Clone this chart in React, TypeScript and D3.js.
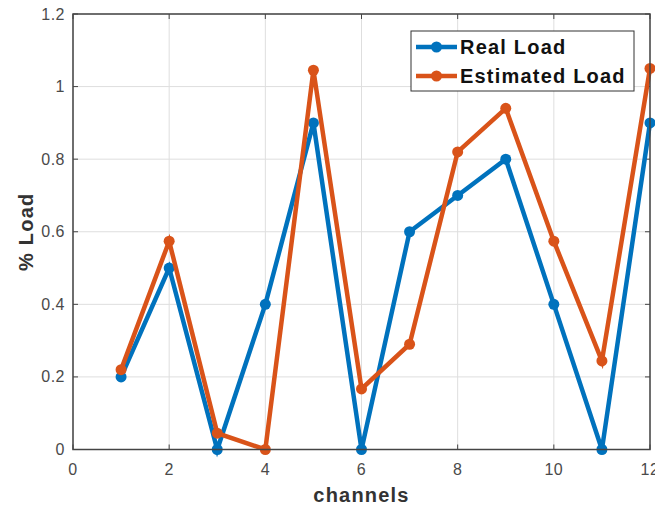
import React from 'react';
import * as d3 from 'd3';

const channels = [1, 2, 3, 4, 5, 6, 7, 8, 9, 10, 11, 12];
const realLoad = [0.2, 0.5, 0, 0.4, 0.9, 0, 0.6, 0.7, 0.8, 0.4, 0, 0.9];
const estimatedLoad = [0.22, 0.574, 0.045, 0, 1.045, 0.167, 0.29, 0.82, 0.94, 0.574, 0.244, 1.05];
const xTicks = [0, 2, 4, 6, 8, 10, 12];
const yTicks = [0, 0.2, 0.4, 0.6, 0.8, 1, 1.2];

const W = 655;
const H = 508;
const margin = { top: 14, right: 5, bottom: 58.5, left: 73 };
const BLUE = '#0072BD';
const ORANGE = '#D95319';
const FONT = 'Liberation Sans, Arial, Helvetica, sans-serif';

export default function App() {
  const innerW = W - margin.left - margin.right;
  const innerH = H - margin.top - margin.bottom;

  const x = d3.scaleLinear().domain([0, 12]).range([0, innerW]);
  const y = d3.scaleLinear().domain([0, 1.2]).range([innerH, 0]);

  const line = d3.line<number>()
    .x((_, i) => x(channels[i]))
    .y((d) => y(d));

  const series = [
    { name: 'Real Load', values: realLoad, color: BLUE },
    { name: 'Estimated Load', values: estimatedLoad, color: ORANGE },
  ];

  // legend box, in plot coordinates
  const lg = { x: 338, y: 17, w: 223, h: 60 };

  return (
    <div style={{ position: 'absolute', left: 0, top: 0 }}>
      <svg width={W} height={H} style={{ display: 'block', background: '#fff' }}>
        <g transform={`translate(${margin.left},${margin.top})`}>
          {/* grid */}
          {xTicks.map((t) => (
            <line key={`gx${t}`} x1={x(t)} x2={x(t)} y1={0} y2={innerH} stroke="#dedede" strokeWidth={1} />
          ))}
          {yTicks.map((t) => (
            <line key={`gy${t}`} x1={0} x2={innerW} y1={y(t)} y2={y(t)} stroke="#dedede" strokeWidth={1} />
          ))}

          {/* ticks */}
          {xTicks.map((t) => (
            <g key={`tx${t}`}>
              <line x1={x(t)} x2={x(t)} y1={innerH} y2={innerH - 5} stroke="#444" />
              <line x1={x(t)} x2={x(t)} y1={0} y2={5} stroke="#444" />
              <text x={x(t)} y={innerH + 25.5} textAnchor="middle" fontFamily={FONT} fontSize={16} letterSpacing={0.5} fill="#4a4a4a">
                {t}
              </text>
            </g>
          ))}
          {yTicks.map((t) => (
            <g key={`ty${t}`}>
              <line x1={0} x2={5} y1={y(t)} y2={y(t)} stroke="#444" />
              <line x1={innerW} x2={innerW - 5} y1={y(t)} y2={y(t)} stroke="#444" />
              <text x={-8} y={y(t) + 5.5} textAnchor="end" fontFamily={FONT} fontSize={16} letterSpacing={0.5} fill="#4a4a4a">
                {t}
              </text>
            </g>
          ))}

          {/* series */}
          {series.map((s) => (
            <g key={s.name}>
              <path d={line(s.values) || ''} fill="none" stroke={s.color} strokeWidth={4.5} strokeLinejoin="miter" />
              {s.values.map((v, i) => (
                <circle key={i} cx={x(channels[i])} cy={y(v)} r={5.5} fill={s.color} />
              ))}
            </g>
          ))}

          {/* box */}
          <rect x={0} y={0} width={innerW} height={innerH} fill="none" stroke="#444" strokeWidth={1.5} />

          {/* legend */}
          <g transform={`translate(${lg.x},${lg.y})`}>
            <rect x={0} y={0} width={lg.w} height={lg.h} fill="#fff" stroke="#333" strokeWidth={1} />
            {series.map((s, i) => (
              <g key={s.name} transform={`translate(0,${16 + i * 29})`}>
                <line x1={5} x2={46} y1={0} y2={0} stroke={s.color} strokeWidth={4.5} />
                <circle cx={25.5} cy={0} r={5.5} fill={s.color} />
                <text x={49} y={7} fontFamily={FONT} fontSize={20} letterSpacing={1.2} fontWeight="bold" fill="#111">
                  {s.name}
                </text>
              </g>
            ))}
          </g>

          {/* axis labels */}
          <text x={innerW / 2} y={innerH + 52} textAnchor="middle" fontFamily={FONT} fontSize={20} letterSpacing={1.2} fontWeight="bold" fill="#333">
            channels
          </text>
          <text
            transform={`translate(${-40},${innerH / 2}) rotate(-90)`}
            textAnchor="middle"
            fontFamily={FONT}
            fontSize={20}
            letterSpacing={1.2}
            fontWeight="bold"
            fill="#333"
          >
            % Load
          </text>
        </g>
      </svg>
    </div>
  );
}
